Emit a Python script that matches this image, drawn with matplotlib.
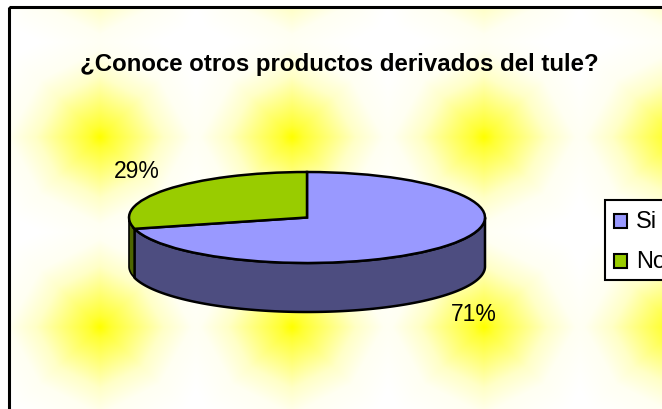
import numpy as np
import matplotlib
matplotlib.use("Agg")
import matplotlib.pyplot as plt
from matplotlib.patches import Rectangle

title = "¿Conoce otros productos derivados del tule?"
labels = ["Si", "No"]
values = [71, 29]
colors = ["#9999ff", "#99cc00"]
wall_colors = ["#4d4d80", "#4d6600"]

W, H = 662, 410
plt.rcParams['font.family'] = ['Liberation Sans', 'DejaVu Sans']

fig = plt.figure(figsize=(W / 100, H / 100), dpi=100, facecolor="white")

# background, pixel coords
bg = fig.add_axes([0, 0, 1, 1])
bg.axis("off")
xx, yy = np.meshgrid(np.arange(W) + 0.5, np.arange(H) + 0.5)
dx = np.abs((xx - 100 + 96) % 192 - 96)
dy = np.abs((yy - 138 + 95) % 190 - 95) * 1.05
d = np.maximum(dx, dy) * 0.65 + np.minimum(dx, dy) * 0.35
blue = np.interp(d, [0, 8, 24, 42, 60, 85], [0, 0.2, 0.47, 0.78, 0.95, 1])
img = np.dstack([np.ones_like(blue), np.ones_like(blue), blue])
im = bg.imshow(img, extent=(0, W, H, 0), aspect="auto", interpolation="bilinear")
frame = Rectangle((9, 8), W + 20, H + 20, fill=False, ec="black", lw=2.2)
bg.add_patch(frame)
im.set_clip_path(frame)
bg.set_xlim(0, W)
bg.set_ylim(H, 0)

# pie axes: unit circle stretched to the tilted ellipse
cx, cy, rx, ry, depth = 307, 218.5, 178, 45.5, 49
ax = fig.add_axes([0, 0, 1, 1], facecolor="none")
edges = np.cumsum([0] + values) / sum(values)
t = np.linspace(np.pi, 2 * np.pi, 300)
sh = depth / ry
# angle where the Si slice ends, clockwise from the top
end = np.pi / 2 - 2 * np.pi * edges[1] + 2 * np.pi
ts = t[t >= end]
ax.fill(np.r_[np.cos(ts), np.cos(ts[::-1])], np.r_[np.sin(ts) - sh, np.sin(ts[::-1])],
        fc=wall_colors[0], ec="black", lw=1.8)
tn = t[t <= end]
ax.fill(np.r_[np.cos(tn), np.cos(tn[::-1])], np.r_[np.sin(tn) - sh, np.sin(tn[::-1])],
        fc=wall_colors[1], ec="black", lw=1.2)
wedges, _ = ax.pie(values, colors=colors, startangle=90, counterclock=False, radius=1,
                   wedgeprops=dict(ec="black", lw=1.8), frame=True)
ax.set_aspect("auto")
ax.set_xlim((0 - cx) / rx, (W - cx) / rx)
ax.set_ylim((cy - H) / ry, cy / ry)
ax.axis("off")

bg.set_zorder(0)
ax.set_zorder(1)

# overlay for texts and legend, pixel coords
top = fig.add_axes([0, 0, 1, 1], facecolor="none", zorder=2)
top.set_xlim(0, W)
top.set_ylim(H, 0)
top.axis("off")

top.text(339, 64, title, fontsize=17.3, fontweight="bold", ha="center", va="center")
top.text(473.5, 315, f"{values[0]}%", fontsize=16.5, ha="center", va="center")
top.text(137, 171.5, f"{values[1]}%", fontsize=16.5, ha="center", va="center")

top.add_patch(Rectangle((605, 201), 80, 80, fc="white", ec="black", lw=1.5))
for i, lab in enumerate(labels):
    y = 222 + 40 * i
    top.add_patch(Rectangle((613.5, y - 7), 13.5, 13.5, fc=colors[i], ec="black", lw=1.5))
    top.text(636, y, lab, fontsize=17, ha="left", va="center")

fig.savefig("out.png", dpi=100)
